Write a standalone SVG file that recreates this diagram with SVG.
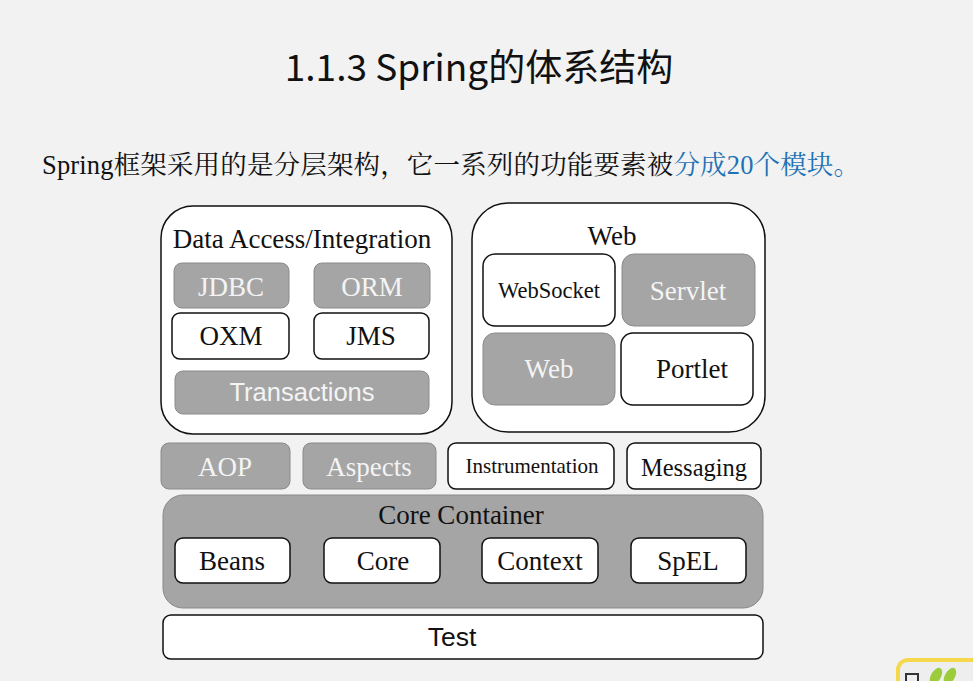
<svg xmlns="http://www.w3.org/2000/svg" width="973" height="681" viewBox="0 0 973 681">
<defs>
<style>
.bg{fill:#f2f2f2}
.w{fill:#ffffff;stroke:#111;stroke-width:1.5}
.g{fill:#a5a5a5;stroke:#8a8a8a;stroke-width:1}
.cw{fill:#ffffff;stroke:#111;stroke-width:1.5}
.ser{font-family:"Liberation Serif","Noto Serif CJK SC","Noto Sans CJK SC",serif;text-anchor:middle;font-size:27px}
.sans{font-family:"Liberation Sans",Arial,sans-serif;text-anchor:middle}
.bk{fill:#111}
.wt{fill:#f4f4f4}
</style>
</defs>
<rect class="bg" x="0" y="0" width="973" height="681"/>
<g id="title">
<text x="479" y="81" font-family="'Noto Sans CJK SC','Noto Sans',sans-serif" font-size="37" fill="#111" text-anchor="middle">1.1.3 Spring的体系结构</text>
</g>
<g id="subtitle">
<text x="42" y="174" textLength="818" lengthAdjust="spacing" font-family="'Liberation Serif','Noto Serif CJK SC','Noto Sans CJK SC',serif" font-size="26.5" fill="#111">Spring框架采用的是分层架构，它一系列的功能要素被<tspan fill="#1f72b5">分成20个模块。</tspan></text>
</g>
<g id="data-access">
<rect class="w" x="161" y="206" width="291" height="228" rx="32"/>
<text class="ser bk" x="302" y="248">Data Access/Integration</text>
</g>
<g id="jdbc"><rect class="g" x="174" y="263" width="115" height="45" rx="8"/><text class="ser wt" x="231" y="296">JDBC</text></g>
<g id="orm"><rect class="g" x="314" y="263" width="116" height="45" rx="8"/><text class="ser wt" x="372" y="296">ORM</text></g>
<g id="oxm"><rect class="cw" x="172" y="313" width="117" height="46" rx="8"/><text class="ser bk" x="231" y="345">OXM</text></g>
<g id="jms"><rect class="cw" x="314" y="313" width="115" height="46" rx="8"/><text class="ser bk" x="371" y="345">JMS</text></g>
<g id="transactions"><rect class="g" x="175" y="371" width="254" height="43" rx="8"/><text class="sans wt" x="302" y="401" font-size="25.5">Transactions</text></g>
<g id="web-group">
<rect class="w" x="472" y="203" width="293" height="229" rx="36"/>
<text class="ser bk" x="612" y="245">Web</text>
</g>
<g id="websocket"><rect class="cw" x="483" y="254" width="132" height="72" rx="12"/><text class="ser bk" x="549" y="298" style="font-size:22.5px">WebSocket</text></g>
<g id="servlet"><rect class="g" x="622" y="254" width="133" height="72" rx="12"/><text class="ser wt" x="688" y="300">Servlet</text></g>
<g id="web"><rect class="g" x="483" y="333" width="132" height="72" rx="12"/><text class="ser wt" x="549" y="378">Web</text></g>
<g id="portlet"><rect class="cw" x="621" y="333" width="132" height="72" rx="12"/><text class="ser bk" x="692" y="378">Portlet</text></g>
<g id="aop"><rect class="g" x="161" y="443" width="129" height="46" rx="8"/><text class="ser wt" x="225" y="476">AOP</text></g>
<g id="aspects"><rect class="g" x="303" y="443" width="133" height="46" rx="8"/><text class="ser wt" x="369" y="476">Aspects</text></g>
<g id="instrumentation"><rect class="cw" x="448" y="443" width="166" height="46" rx="8"/><text class="ser bk" x="532" y="473" style="font-size:21px">Instrumentation</text></g>
<g id="messaging"><rect class="cw" x="627" y="443" width="134" height="46" rx="8"/><text class="ser bk" x="694" y="476" style="font-size:24.5px">Messaging</text></g>
<g id="core-container">
<rect class="g" x="163" y="495" width="600" height="113" rx="20"/>
<text class="ser bk" x="461" y="524">Core Container</text>
</g>
<g id="beans"><rect class="cw" x="175" y="538" width="115" height="45" rx="8"/><text class="ser bk" x="232" y="570">Beans</text></g>
<g id="core"><rect class="cw" x="324" y="538" width="116" height="45" rx="8"/><text class="ser bk" x="383" y="570">Core</text></g>
<g id="context"><rect class="cw" x="482" y="538" width="116" height="45" rx="8"/><text class="ser bk" x="540" y="570">Context</text></g>
<g id="spel"><rect class="cw" x="631" y="538" width="115" height="45" rx="8"/><text class="ser bk" x="688" y="570">SpEL</text></g>
<g id="test"><rect class="cw" x="163" y="615" width="600" height="44" rx="8"/><text class="sans bk" x="452" y="646" font-size="26.5">Test</text></g>
<g id="corner-icon">
<rect x="898" y="660" width="90" height="40" rx="10" fill="#eeeeee" stroke="#f5d84c" stroke-width="4"/>
<rect x="906" y="674" width="12" height="12" fill="none" stroke="#333" stroke-width="2"/>
<ellipse cx="936" cy="676" rx="5" ry="9" fill="#9ccc3c" transform="rotate(30 936 676)"/>
<ellipse cx="950" cy="676" rx="5" ry="9" fill="#9ccc3c" transform="rotate(30 950 676)"/>
</g>
</svg>
